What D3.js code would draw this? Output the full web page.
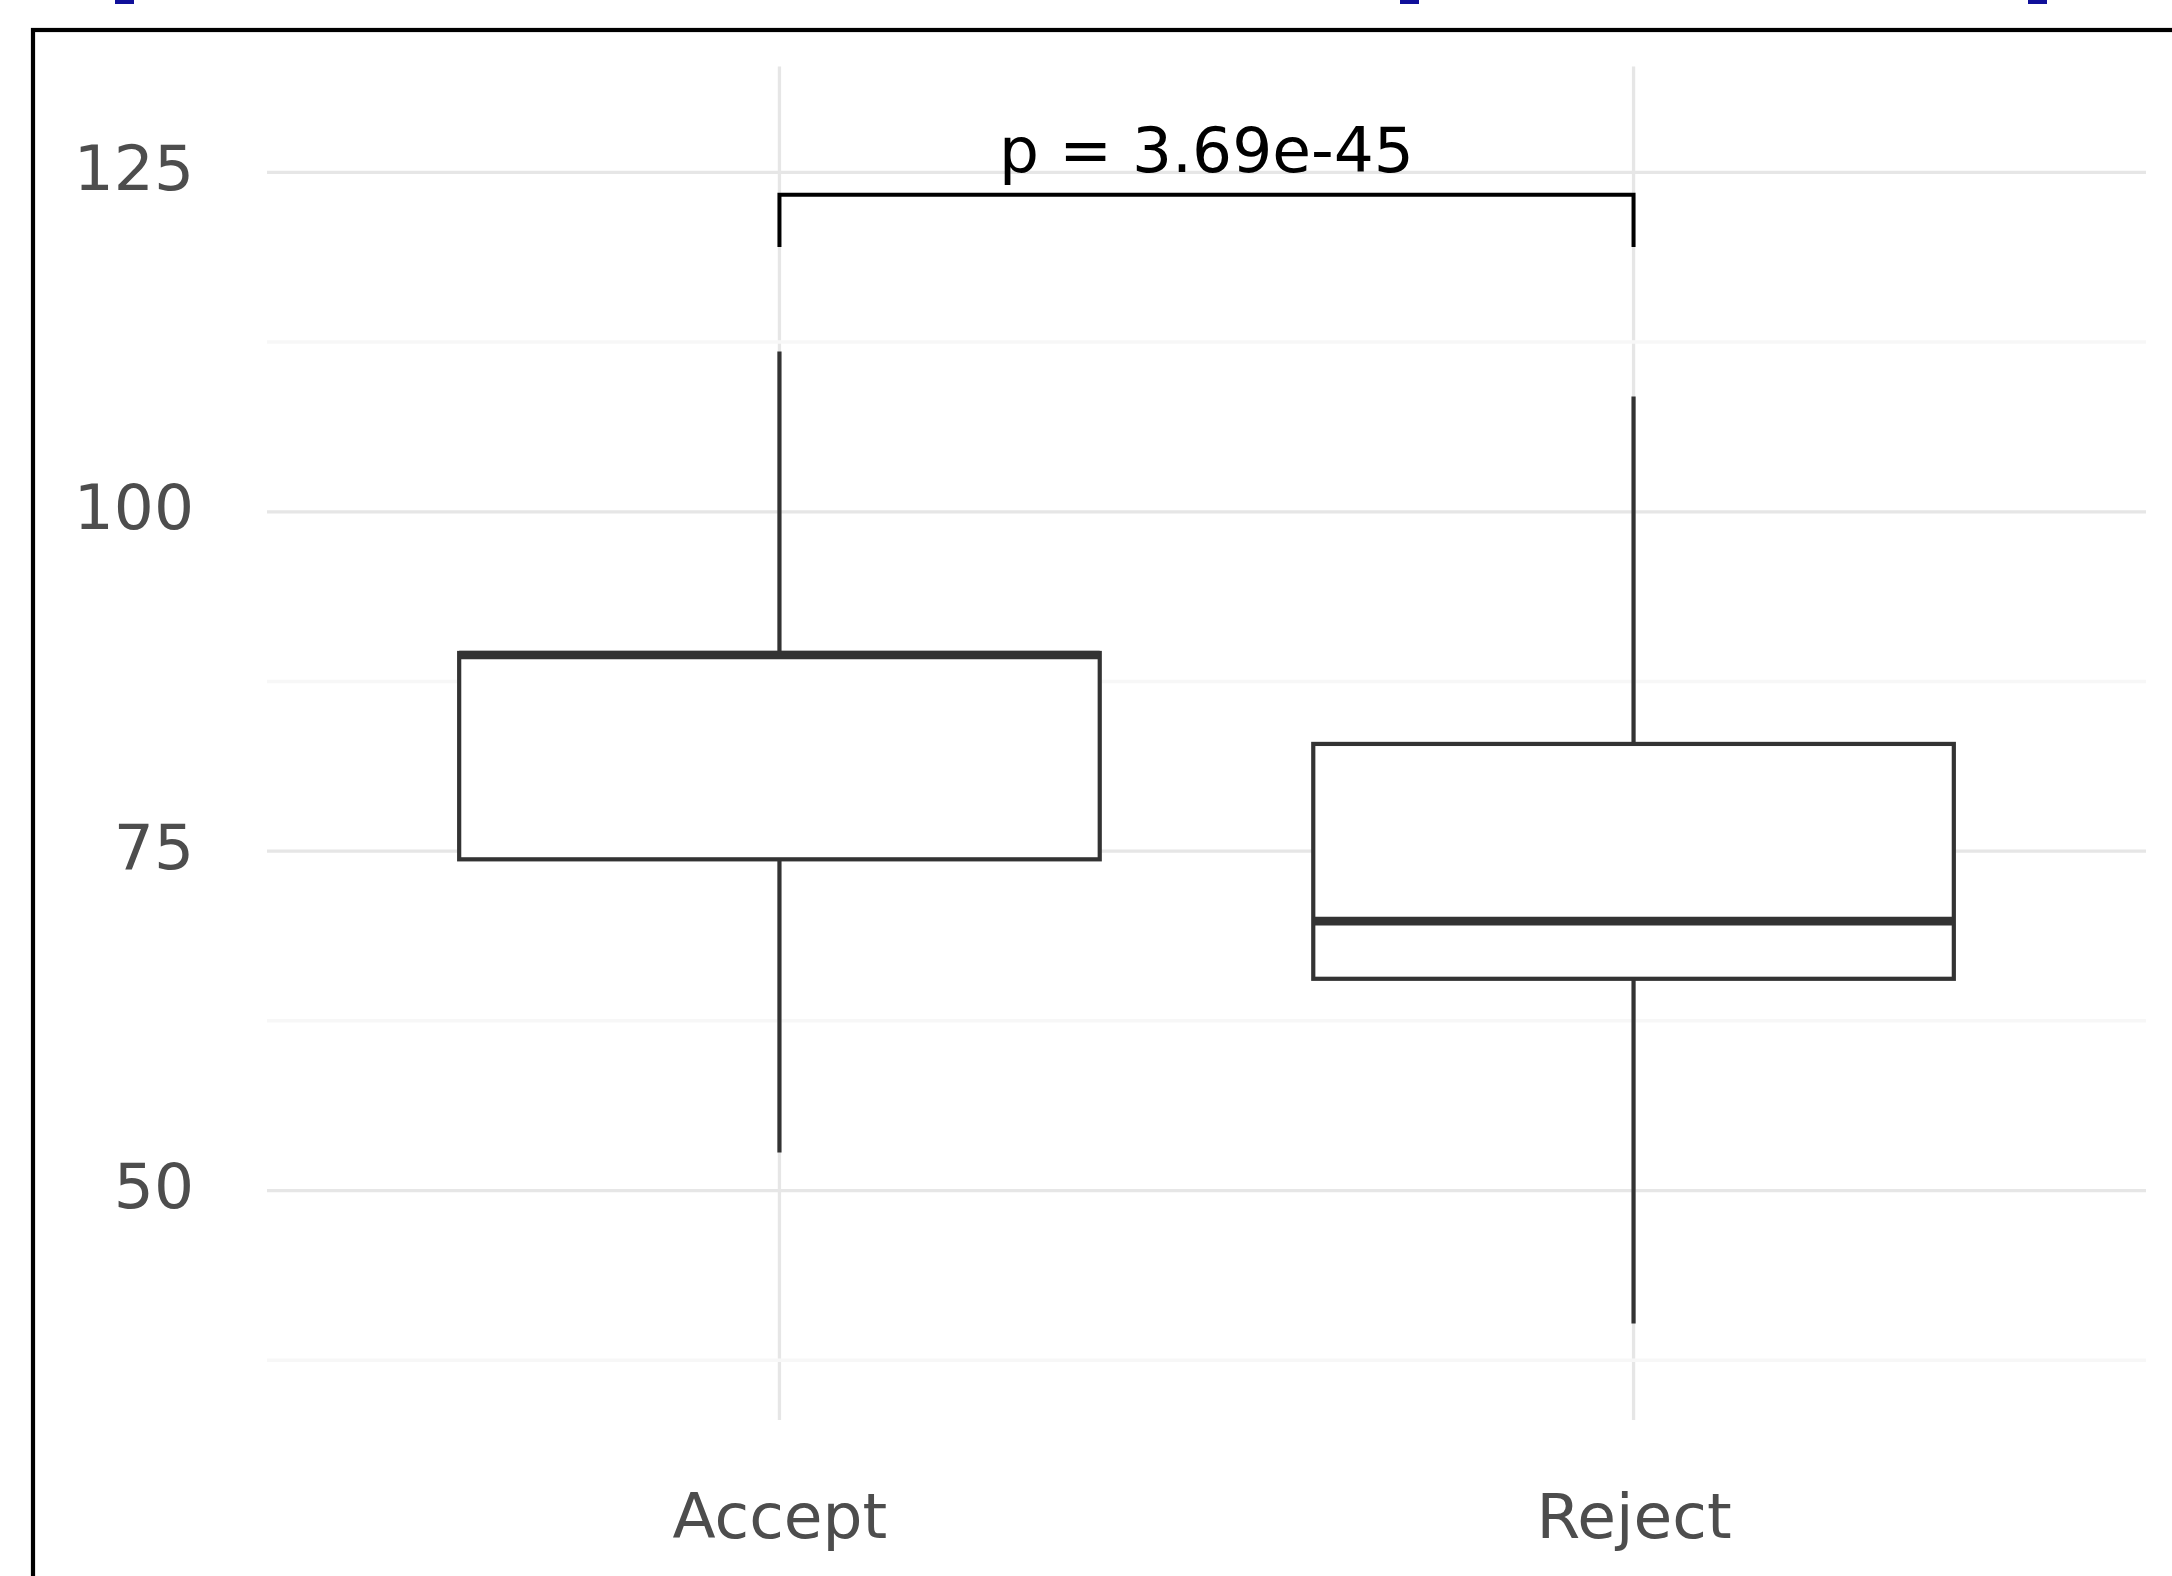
<!DOCTYPE html>
<html>
<head>
<meta charset="utf-8">
<script src="https://cdn.jsdelivr.net/npm/d3@7"></script>
<style>
	body { margin: 0; background: #fff; }
	text { font-family: "DejaVu Sans", sans-serif; }
</style>
</head>
<body>
<div class="box-plot"></div>
<script>
// values
var groups = ["Accept", "Reject"];
var whiskerLow = [52.8, 40.2];
var q1 = [74.4, 65.6];
var median = [89.45, 69.85];
var q3 = [89.6, 82.9];
var whiskerHigh = [111.8, 108.5];
var majorTicks = [50, 75, 100, 125];
var minorTicks = [37.5, 62.5, 87.5, 112.5];
var pLabel = "p = 3.69e-45";
var bracketY = 123.36;
var bracketTip = 119.5;

const width = 2172;
const height = 1576;
const svg = d3.select('.box-plot')
	.append('svg')
	.attr('width', width)
	.attr('height', height);

const panel = {left: 267, right: 2146, top: 66.5, bottom: 1420};

const x = d3.scalePoint()
	.domain(groups)
	.range([panel.left, panel.right])
	.padding(0.6);
const y = d3.scaleLinear()
	.domain([33.1, 132.8])
	.range([panel.bottom, panel.top]);
const boxW = x.step() * 0.75;

// blue bits cut off at the top edge
svg.selectAll('.blue')
	.data([115, 1400, 2028])
	.enter()
	.append('rect')
	.attr("class", "blue")
	.attr("x", d => d)
	.attr("y", 0)
	.attr("width", 19)
	.attr("height", 4)
	.attr("fill", "#10109a");

// outer frame
svg.append('rect')
	.attr("x", 33)
	.attr("y", 30)
	.attr("width", 2400)
	.attr("height", 1800)
	.attr("fill", "none")
	.attr("stroke", "black")
	.attr("stroke-width", 4.2);

// grid
svg.selectAll('.vgrid')
	.data(groups)
	.enter()
	.append('line')
	.attr("class", "vgrid")
	.attr("x1", d => x(d))
	.attr("x2", d => x(d))
	.attr("y1", panel.top)
	.attr("y2", panel.bottom)
	.attr("stroke", "#e6e6e6")
	.attr("stroke-width", 3.3);
svg.selectAll('.minor')
	.data(minorTicks)
	.enter()
	.append('line')
	.attr("class", "minor")
	.attr("x1", panel.left)
	.attr("x2", panel.right)
	.attr("y1", d => y(d))
	.attr("y2", d => y(d))
	.attr("stroke", "#f7f7f7")
	.attr("stroke-width", 3.5);
svg.selectAll('.major')
	.data(majorTicks)
	.enter()
	.append('line')
	.attr("class", "major")
	.attr("x1", panel.left)
	.attr("x2", panel.right)
	.attr("y1", d => y(d))
	.attr("y2", d => y(d))
	.attr("stroke", "#e6e6e6")
	.attr("stroke-width", 3.3);

// axes (text only)
const yAxis = svg.append('g')
	.attr("transform", "translate(" + panel.left + ",-3)")
	.call(d3.axisLeft(y).tickValues(majorTicks).tickSize(0).tickPadding(73));
const xAxis = svg.append('g')
	.attr("transform", "translate(0," + panel.bottom + ")")
	.call(d3.axisBottom(x).tickSize(0).tickPadding(73));
[yAxis, xAxis].forEach(a => {
	a.select('.domain').remove();
	a.selectAll('text')
		.attr("fill", "#4d4d4d")
		.attr("font-size", 63)
		.attr("font-family", "DejaVu Sans");
});

// boxes
var stats = groups.map((g, i) => ({g: g, lo: whiskerLow[i], q1: q1[i], med: median[i], q3: q3[i], hi: whiskerHigh[i]}));
const boxes = svg.selectAll('.boxes')
	.data(stats)
	.enter()
	.append('g')
	.attr("class", "boxes");
boxes.append('line')
	.attr("x1", d => x(d.g))
	.attr("x2", d => x(d.g))
	.attr("y1", d => y(d.hi))
	.attr("y2", d => y(d.q3))
	.attr("stroke", "#333333")
	.attr("stroke-width", 4.2);
boxes.append('line')
	.attr("x1", d => x(d.g))
	.attr("x2", d => x(d.g))
	.attr("y1", d => y(d.q1))
	.attr("y2", d => y(d.lo))
	.attr("stroke", "#333333")
	.attr("stroke-width", 4.2);
boxes.append('rect')
	.attr("x", d => x(d.g) - boxW / 2)
	.attr("y", d => y(d.q3))
	.attr("width", boxW)
	.attr("height", d => y(d.q1) - y(d.q3))
	.attr("fill", "white")
	.attr("stroke", "#333333")
	.attr("stroke-width", 4.2);
boxes.append('line')
	.attr("x1", d => x(d.g) - boxW / 2)
	.attr("x2", d => x(d.g) + boxW / 2)
	.attr("y1", d => y(d.med))
	.attr("y2", d => y(d.med))
	.attr("stroke", "#333333")
	.attr("stroke-width", 8.6);

// significance bracket
var bracket = [[groups[0], bracketTip], [groups[0], bracketY], [groups[1], bracketY], [groups[1], bracketTip]];
svg.append('path')
	.attr("d", d3.line().x(d => x(d[0])).y(d => y(d[1]))(bracket))
	.attr("fill", "none")
	.attr("stroke", "black")
	.attr("stroke-width", 4);
svg.append('text')
	.attr("x", (x(groups[0]) + x(groups[1])) / 2)
	.attr("y", 171.5)
	.attr("text-anchor", "middle")
	.attr("font-size", 63)
	.attr("fill", "black")
	.text(pLabel);
</script>
</body>
</html>
